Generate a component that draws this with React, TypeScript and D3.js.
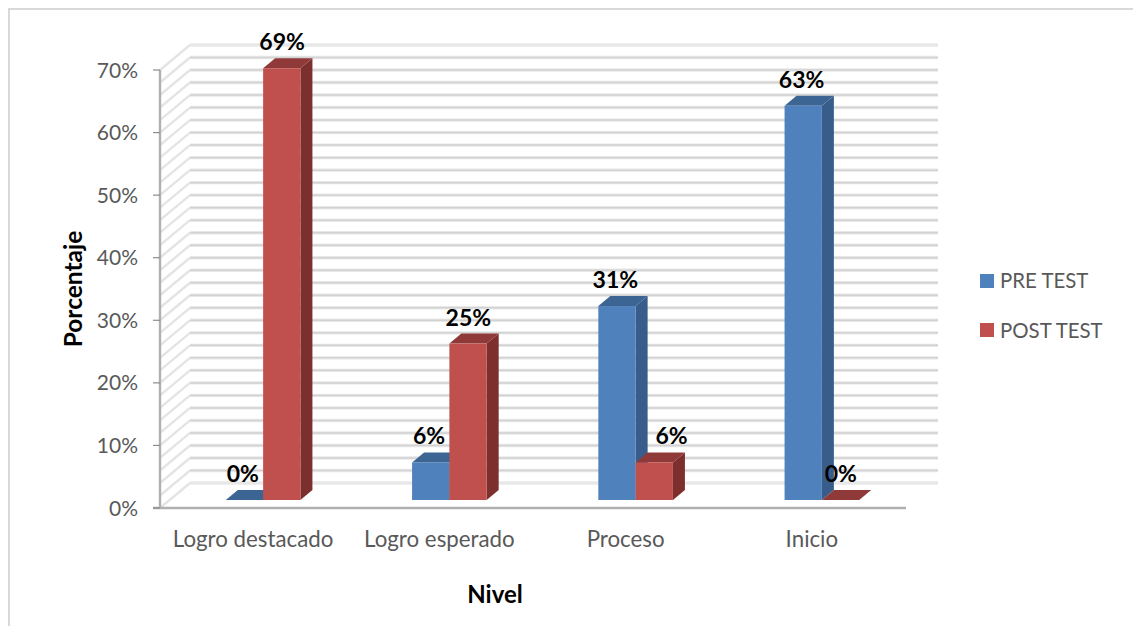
import React from "react";
import * as d3 from "d3";

const categories = ["Logro destacado", "Logro esperado", "Proceso", "Inicio"];
const preTest = [0, 6, 31, 63];
const postTest = [69, 25, 6, 0];
const postLabelNudge = [0, 0, 17, 0];
const yTicks = [0, 10, 20, 30, 40, 50, 60, 70];
const minorTicks = d3.range(0, 72, 2);
const seriesNames = ["PRE TEST", "POST TEST"];

const FONT = "Lato, Carlito, Calibri, sans-serif";
const BLUE = { front: "#4f81bd", side: "#385d8a", top: "#3d6594" };
const RED = { front: "#c0504d", side: "#7d2f2d", top: "#8f3a38" };

// Oblique projection of the floor depth
const wallDx = 30;
const wallDy = -25;
const barDx = 12;
const barDy = -10;

const yFront = d3.scaleLinear().domain([0, 70]).range([508, 70]);
const yBar = d3.scaleLinear().domain([0, 70]).range([500, 62]);
const xBand = d3.scaleBand<string>().domain(categories).range([160, 905]);
const barWidth = 37.3;
const barOffset = 10;

function Bar3D({ x, value, colors }: { x: number; value: number; colors: typeof BLUE }) {
  const top = yBar(value);
  const base = yBar(0);
  const w = barWidth;
  return (
    <g>
      <polygon
        points={`${x + w},${base} ${x + w + barDx},${base + barDy} ${x + w + barDx},${top + barDy} ${x + w},${top}`}
        fill={colors.side}
      />
      <polygon
        points={`${x},${top} ${x + barDx},${top + barDy} ${x + w + barDx},${top + barDy} ${x + w},${top}`}
        fill={colors.top}
      />
      {value > 0 && <rect x={x} y={top} width={w} height={base - top} fill={colors.front} />}
    </g>
  );
}

export default function App() {
  const labelStyle = { fontFamily: FONT, fill: "#595959" };
  const valueStyle = { fontFamily: FONT, fill: "#000", fontWeight: 700 };
  const pairStart = (c: string) => (xBand(c) as number) + xBand.bandwidth() / 2 + barOffset - barWidth;

  return (
    <svg width={1133} height={626} style={{ position: "absolute", left: 0, top: 0, background: "#fff" }}>
      {/* chart frame, open on the right and at the bottom */}
      <path d="M9,626 V9 H1133" fill="none" stroke="#d9d9d9" strokeWidth={2} />

      {/* back wall and side wall gridlines, a soft halo under a darker core */}
      {minorTicks.map((t) => {
        const light = t === 0 || t === 70;
        const y = yFront(t);
        return (
          <g key={t} fill="none">
            <line x1={160} x2={160 + wallDx} y1={y} y2={y + wallDy} stroke="#e4e4e4" strokeWidth={2.4} />
            <line x1={160 + wallDx} x2={938} y1={y + wallDy} y2={y + wallDy} stroke="#e8e8e8" strokeWidth={3.4} />
            {!light && (
              <line x1={160 + wallDx} x2={938} y1={y + wallDy} y2={y + wallDy} stroke="#d2d2d2" strokeWidth={1.5} />
            )}
          </g>
        );
      })}

      {/* value axis */}
      <line x1={160} x2={160} y1={70} y2={508} stroke="#b0b0b0" strokeWidth={2.4} />
      <line x1={153} x2={906} y1={508} y2={508} stroke="#b0b0b0" strokeWidth={2.4} />
      {yTicks.map((t) => (
        <g key={t}>
          <line x1={153} x2={160} y1={yFront(t)} y2={yFront(t)} stroke="#8c8c8c" strokeWidth={1.2} />
          <text x={138} y={yFront(t) + 7.5} textAnchor="end" fontSize={21} {...labelStyle}>{`${t}%`}</text>
        </g>
      ))}

      {/* bars, drawn left to right so neighbours overlap correctly */}
      {categories.map((c, i) => {
        const x0 = pairStart(c);
        return (
          <g key={c}>
            <Bar3D x={x0} value={preTest[i]} colors={BLUE} />
            <Bar3D x={x0 + barWidth} value={postTest[i]} colors={RED} />
          </g>
        );
      })}

      {/* data labels */}
      {categories.map((c, i) => {
        const x0 = pairStart(c);
        return (
          <g key={c} textAnchor="middle" fontSize={23} {...valueStyle}>
            <text x={x0 + 17} y={yBar(preTest[i]) - 18}>{`${preTest[i]}%`}</text>
            <text x={x0 + barWidth + 19 + postLabelNudge[i]} y={yBar(postTest[i]) - 18}>{`${postTest[i]}%`}</text>
          </g>
        );
      })}

      {/* category labels */}
      {categories.map((c) => (
        <text key={c} x={(xBand(c) as number) + xBand.bandwidth() / 2} y={547} textAnchor="middle" fontSize={22.3} {...labelStyle}>
          {c}
        </text>
      ))}

      {/* axis titles */}
      <text x={495} y={603} textAnchor="middle" fontSize={24} {...valueStyle}>Nivel</text>
      <text transform="translate(81.5,289) rotate(-90)" textAnchor="middle" fontSize={24.5} {...valueStyle}>Porcentaje</text>

      {/* legend */}
      {seriesNames.map((n, i) => (
        <g key={n}>
          <rect x={980} y={274 + i * 49} width={14} height={14} fill={i === 0 ? BLUE.front : RED.front} />
          <text x={1000} y={288 + i * 50} fontSize={20.4} {...labelStyle}>{n}</text>
        </g>
      ))}
    </svg>
  );
}
